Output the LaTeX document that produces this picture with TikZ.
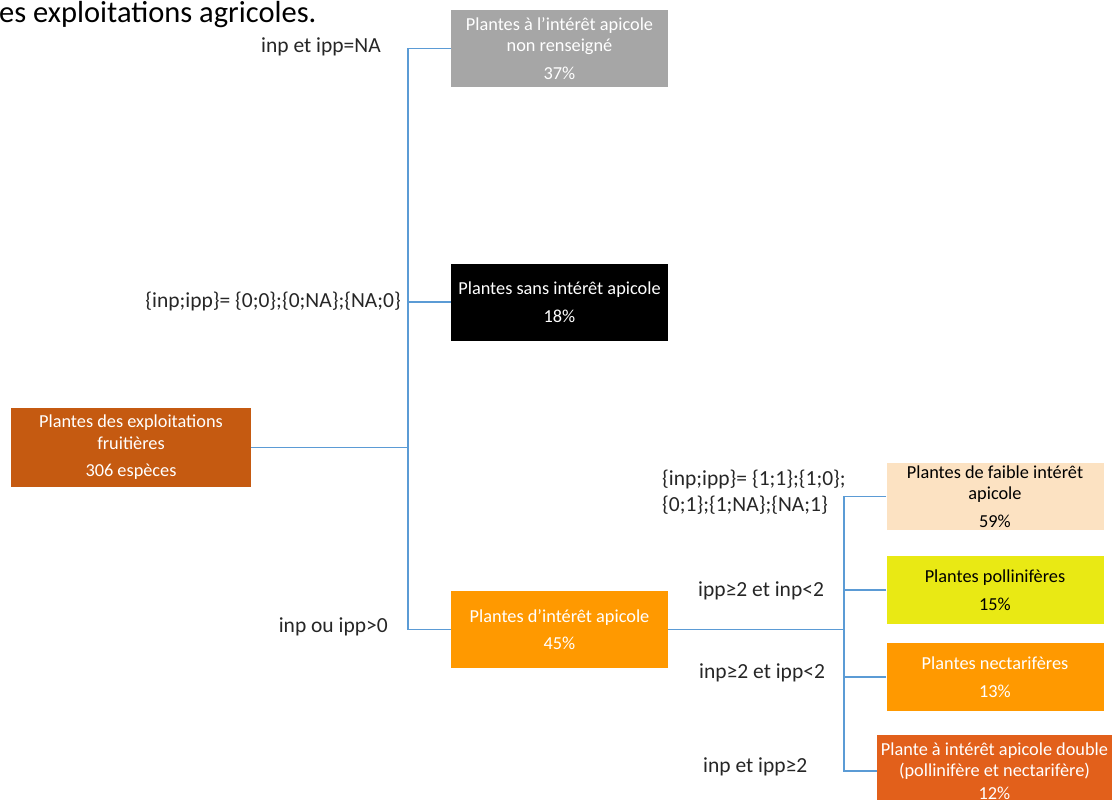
\documentclass[tikz,border=0pt]{standalone}
\usepackage{fontspec}
\setmainfont{Carlito}
\definecolor{conn}{HTML}{5B9BD5}
\definecolor{cgray}{HTML}{A6A6A6}
\definecolor{croot}{HTML}{C55A11}
\definecolor{corange}{HTML}{FF9900}
\definecolor{cpeach}{HTML}{FCE2C2}
\definecolor{cyellow}{HTML}{E9E914}
\definecolor{cdouble}{HTML}{E2601B}
\begin{document}
\begin{tikzpicture}[x=1pt,y=-1pt,
  box/.style={inner sep=0pt, minimum width=217pt, minimum height=77pt, align=center, text=white,
    font=\fontsize{18.3}{21.5}\selectfont},
  lbl/.style={inner sep=0pt, font=\fontsize{21.5}{26}\selectfont, text=black!85},
  link/.style={draw=conn, line width=1.5pt}]
\useasboundingbox (0,0) rectangle (1117,800);
\clip (0,0) rectangle (1117,800);
\node[inner sep=0pt, anchor=west, font=\fontsize{30.5}{33}\selectfont] (title) at (-1,15) {es exploitations agricoles.};
% boxes
\node[box, fill=cgray] (gray) at (559.5,48.5) {Plantes à l’intérêt apicole\\non renseigné\\[6pt]37\%};
\node[box, fill=black] (black) at (559.5,302) {Plantes sans intérêt apicole\\[6pt]18\%};
\node[box, fill=croot, minimum width=240pt, minimum height=79pt] (root) at (131,447.5) {Plantes des exploitations\\fruitières\\[6pt]306 espèces};
\node[box, fill=corange] (orange) at (559.5,629.5) {Plantes d’intérêt apicole\\[6pt]45\%};
\node[box, fill=cpeach, text=black, minimum height=67pt] (peach) at (995,496.5) {Plantes de faible intérêt\\apicole\\[6pt]59\%};
\node[box, fill=cyellow, text=black, minimum height=68pt] (yellow) at (995,590) {Plantes pollinifères\\[6pt]15\%};
\node[box, fill=corange, minimum height=68pt] (nect) at (995,677) {Plantes nectarifères\\[6pt]13\%};
\node[box, fill=cdouble, minimum width=235pt, minimum height=72pt] (dbl) at (994.5,771) {Plante à intérêt apicole double\\(pollinifère et nectarifère)\\[1pt]12\%};
% junctions
\coordinate (j1) at (408,447.5);
\coordinate (j2) at (844,629.5);
\draw[link] (root.east) -- (j1);
\draw[link] (gray.west) -| (j1);
\draw[link] (orange.west) -| (j1);
\draw[link] (black.west) -- (black.west -| j1);
\draw[link] (orange.east) -- (j2);
\draw[link] (peach.west) -| (j2);
\draw[link] (dbl.west) -| (j2);
\draw[link] (yellow.west) -- (yellow.west -| j2);
\draw[link] (nect.west) -- (nect.west -| j2);
% labels
\node[lbl, anchor=east] (l1) at (381,47) {inp et ipp=NA};
\node[lbl, anchor=east] (l2) at (401,301) {\{inp;ipp\}= \{0;0\};\{0;NA\};\{NA;0\}};
\node[lbl, anchor=east] (l3) at (388,627) {inp ou ipp>0};
\node[lbl, anchor=west, align=left] (l4) at (662,492) {\{inp;ipp\}= \{1;1\};\{1;0\};\\\{0;1\};\{1;NA\};\{NA;1\}};
\node[lbl, anchor=west] (l5) at (698,591) {ipp≥2 et inp<2};
\node[lbl, anchor=west] (l6) at (699,673) {inp≥2 et ipp<2};
\node[lbl, anchor=west] (l7) at (703,767) {inp et ipp≥2};
\end{tikzpicture}
\end{document}
